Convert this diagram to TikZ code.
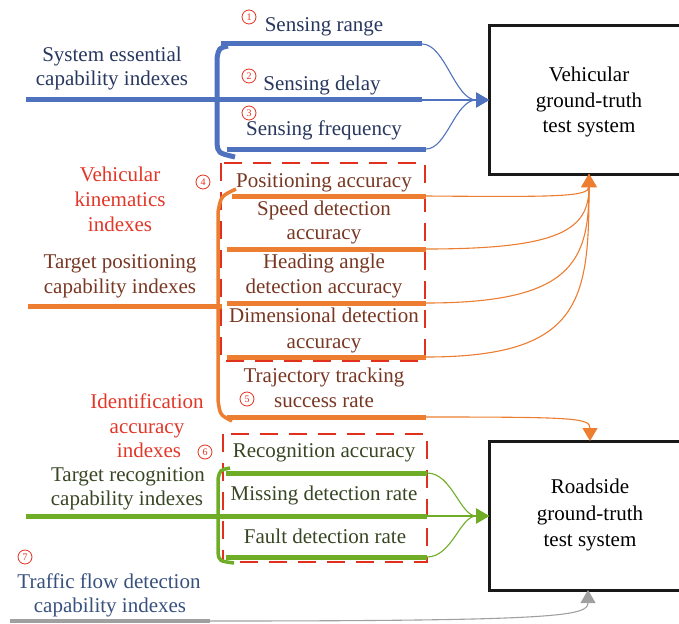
\documentclass[tikz,border=0pt]{standalone}
\usepackage{fontspec}
\setmainfont{Liberation Serif}
\usetikzlibrary{arrows.meta}
\definecolor{cblue}{RGB}{79,114,190}
\definecolor{corange}{RGB}{237,125,49}
\definecolor{cgreen}{RGB}{112,173,38}
\definecolor{cred}{RGB}{226,48,30}
\definecolor{cgray}{RGB}{160,160,160}
\definecolor{tblue}{RGB}{40,55,95}
\definecolor{tnavy}{RGB}{55,80,125}
\definecolor{tbrown}{RGB}{120,55,35}
\definecolor{tgreen}{RGB}{55,70,35}
\definecolor{tred}{RGB}{226,55,40}
\tikzset{
  txt/.style={font=\fontsize{21}{25}\selectfont, anchor=base, inner sep=0pt},
  circ/.style={circle, draw=cred, text=cred, line width=0.8pt, inner sep=0pt,
    minimum size=14pt, font=\fontsize{10}{10}\selectfont},
  sysbox/.style={draw=black!90, line width=3pt, fill=none},
  stem/.style={line width=5pt},
  link/.style={line width=1.1pt},
  tip/.style={-{Triangle[length=13pt,width=15pt]}},
  dbox/.style={draw=cred, line width=2.8pt, dash pattern=on 18pt off 11pt},
}
\begin{document}
\begin{tikzpicture}[x=1pt,y=-1pt]
\useasboundingbox (0,0) rectangle (679,623);

% system boxes
\draw[sysbox] (489,26) rectangle (695,174);
\coordinate (vwest) at (489,100);
\coordinate (vsouth) at (589,174);
\node[txt, text=black] (v1) at (589,82) {Vehicular};
\node[txt, text=black] (v2) at (589,107) {ground-truth};
\node[txt, text=black] (v3) at (589,132) {test system};

\draw[sysbox] (489,441) rectangle (695,590);
\coordinate (rwest) at (489,516);
\coordinate (rnorth) at (590,441);
\coordinate (rsouth) at (588,590);
\node[txt, text=black] (r1) at (590,493) {Roadside};
\node[txt, text=black] (r2) at (590,520) {ground-truth};
\node[txt, text=black] (r3) at (590,546) {test system};

% dashed boxes
\draw[dbox] (221,163) rectangle (425,361);
\draw[dbox] (223,434) rectangle (427,562);

% ---------- blue section ----------
\coordinate (b1L) at (221,44);  \coordinate (b1R) at (422,44);
\coordinate (b2L) at (26,100);  \coordinate (b2R) at (422,100);
\coordinate (b3L) at (227,149); \coordinate (b3R) at (426,149);
\draw[stem, cblue] (b1L) -- (b1R);
\draw[stem, cblue] (b2L) -- (b2R);
\draw[stem, cblue] (b3L) -- (b3R);
\draw[stem, cblue] (228,46) .. controls (219,48) .. (217,58) -- (217,143)
  .. controls (218,153) .. (235,157);
\draw[link, cblue, tip] (b1R) .. controls (445,44) and (455,100) .. (vwest);
\draw[link, cblue, tip] (b2R) -- (vwest);
\draw[link, cblue, tip] (b3R) .. controls (447,149) and (455,100) .. (vwest);

\node[txt, text=tblue] (s1) at (112,62) {System essential};
\node[txt, text=tblue] (s2) at (112,86) {capability indexes};
\node[txt, text=tblue] (sr) at (324,32) {Sensing range};
\node[txt, text=tblue] (sd) at (322,91) {Sensing delay};
\node[txt, text=tblue] (sf) at (324,135) {Sensing frequency};
\node[circ] (c1) at (249,17) {1};
\node[circ] (c2) at (249,76) {2};
\node[circ] (c3) at (249,113) {3};

% ---------- orange section ----------
\coordinate (o0L) at (28,306);  \coordinate (o0R) at (222,306);
\coordinate (o1L) at (232,196); \coordinate (o1R) at (426,196);
\coordinate (o2L) at (227,249); \coordinate (o2R) at (426,249);
\coordinate (o3L) at (227,303); \coordinate (o3R) at (426,303);
\coordinate (o4L) at (227,357); \coordinate (o4R) at (426,357);
\coordinate (o5L) at (227,417); \coordinate (o5R) at (426,417);
\draw[stem, corange] (o0L) -- (o0R);
\draw[stem, corange] (o1L) -- (o1R);
\draw[stem, corange] (o2L) -- (o2R);
\draw[stem, corange] (o3L) -- (o3R);
\draw[stem, corange] (o4L) -- (o4R);
\draw[stem, corange] (o5L) -- (o5R);
\draw[line width=3.5pt, corange] (236,189) .. controls (221,196) .. (218,212) -- (218,400)
  .. controls (220,415) .. (232,421);
\draw[link, corange, tip] (o1R) .. controls (555,197) and (589,197) .. (vsouth);
\draw[link, corange, tip] (o2R) .. controls (560,249) and (589,230) .. (vsouth);
\draw[link, corange, tip] (o3R) .. controls (572,303) and (589,262) .. (vsouth);
\draw[link, corange, tip] (o4R) .. controls (582,357) and (589,300) .. (vsouth);
\draw[link, corange, tip] (o5R) .. controls (575,417) and (590,418) .. (rnorth);

\node[txt, text=tred] (k1) at (120,181) {Vehicular};
\node[txt, text=tred] (k2) at (120,206) {kinematics};
\node[txt, text=tred] (k3) at (120,231) {indexes};
\node[txt, text=tbrown] (t1) at (120,268) {Target positioning};
\node[txt, text=tbrown] (t2) at (120,293) {capability indexes};
\node[txt, text=tbrown] (p1) at (324,187) {Positioning accuracy};
\node[txt, text=tbrown] (p2a) at (324,215) {Speed detection};
\node[txt, text=tbrown] (p2b) at (324,239) {accuracy};
\node[txt, text=tbrown] (p3a) at (324,268) {Heading angle};
\node[txt, text=tbrown] (p3b) at (324,293) {detection accuracy};
\node[txt, text=tbrown] (p4a) at (324,322) {Dimensional detection};
\node[txt, text=tbrown] (p4b) at (324,348) {accuracy};
\node[txt, text=tbrown] (p5a) at (324,382) {Trajectory tracking};
\node[txt, text=tbrown] (p5b) at (324,407) {success rate};
\node[circ] (c4) at (203,182) {4};
\node[circ] (c5) at (247,399) {5};

% ---------- green section ----------
\node[txt, text=tred] (i1) at (147,408) {Identification};
\node[txt, text=tred] (i2) at (147,433) {accuracy};
\node[txt, text=tred] (i3) at (149,457) {indexes};
\node[circ] (c6) at (205,452) {6};

\coordinate (g1L) at (226,473); \coordinate (g1R) at (427,473);
\coordinate (g2L) at (26,516);  \coordinate (g2R) at (427,516);
\coordinate (g3L) at (226,557); \coordinate (g3R) at (427,557);
\draw[stem, cgreen] (g1L) -- (g1R);
\draw[stem, cgreen] (g2L) -- (g2R);
\draw[stem, cgreen] (g3L) -- (g3R);
\draw[line width=3.5pt, cgreen] (230,468) .. controls (220,470) .. (218,479) -- (218,552)
  .. controls (219,561) .. (234,563);
\draw[link, cgreen, tip] (g1R) .. controls (452,473) and (460,516) .. (rwest);
\draw[link, cgreen, tip] (g2R) -- (rwest);
\draw[link, cgreen, tip] (g3R) .. controls (452,557) and (460,516) .. (rwest);

\node[txt, text=tgreen] (tr1) at (128,481) {Target recognition};
\node[txt, text=tgreen] (tr2) at (127,505) {capability indexes};
\node[txt, text=tgreen] (q1) at (324,457) {Recognition accuracy};
\node[txt, text=tgreen] (q2) at (324,500) {Missing detection rate};
\node[txt, text=tgreen] (q3) at (325,543) {Fault detection rate};

% ---------- gray section ----------
\node[circ] (c7) at (25,557) {7};
\node[txt, text=tnavy] (f1) at (109,588) {Traffic flow detection};
\node[txt, text=tnavy] (f2) at (110,612) {capability indexes};
\coordinate (gyL) at (10,621); \coordinate (gyR) at (210,621);
\draw[line width=4pt, cgray] (gyL) -- (gyR);
\draw[link, cgray, tip] (gyR) .. controls (560,621) and (588,616) .. (rsouth);
\end{tikzpicture}
\end{document}
